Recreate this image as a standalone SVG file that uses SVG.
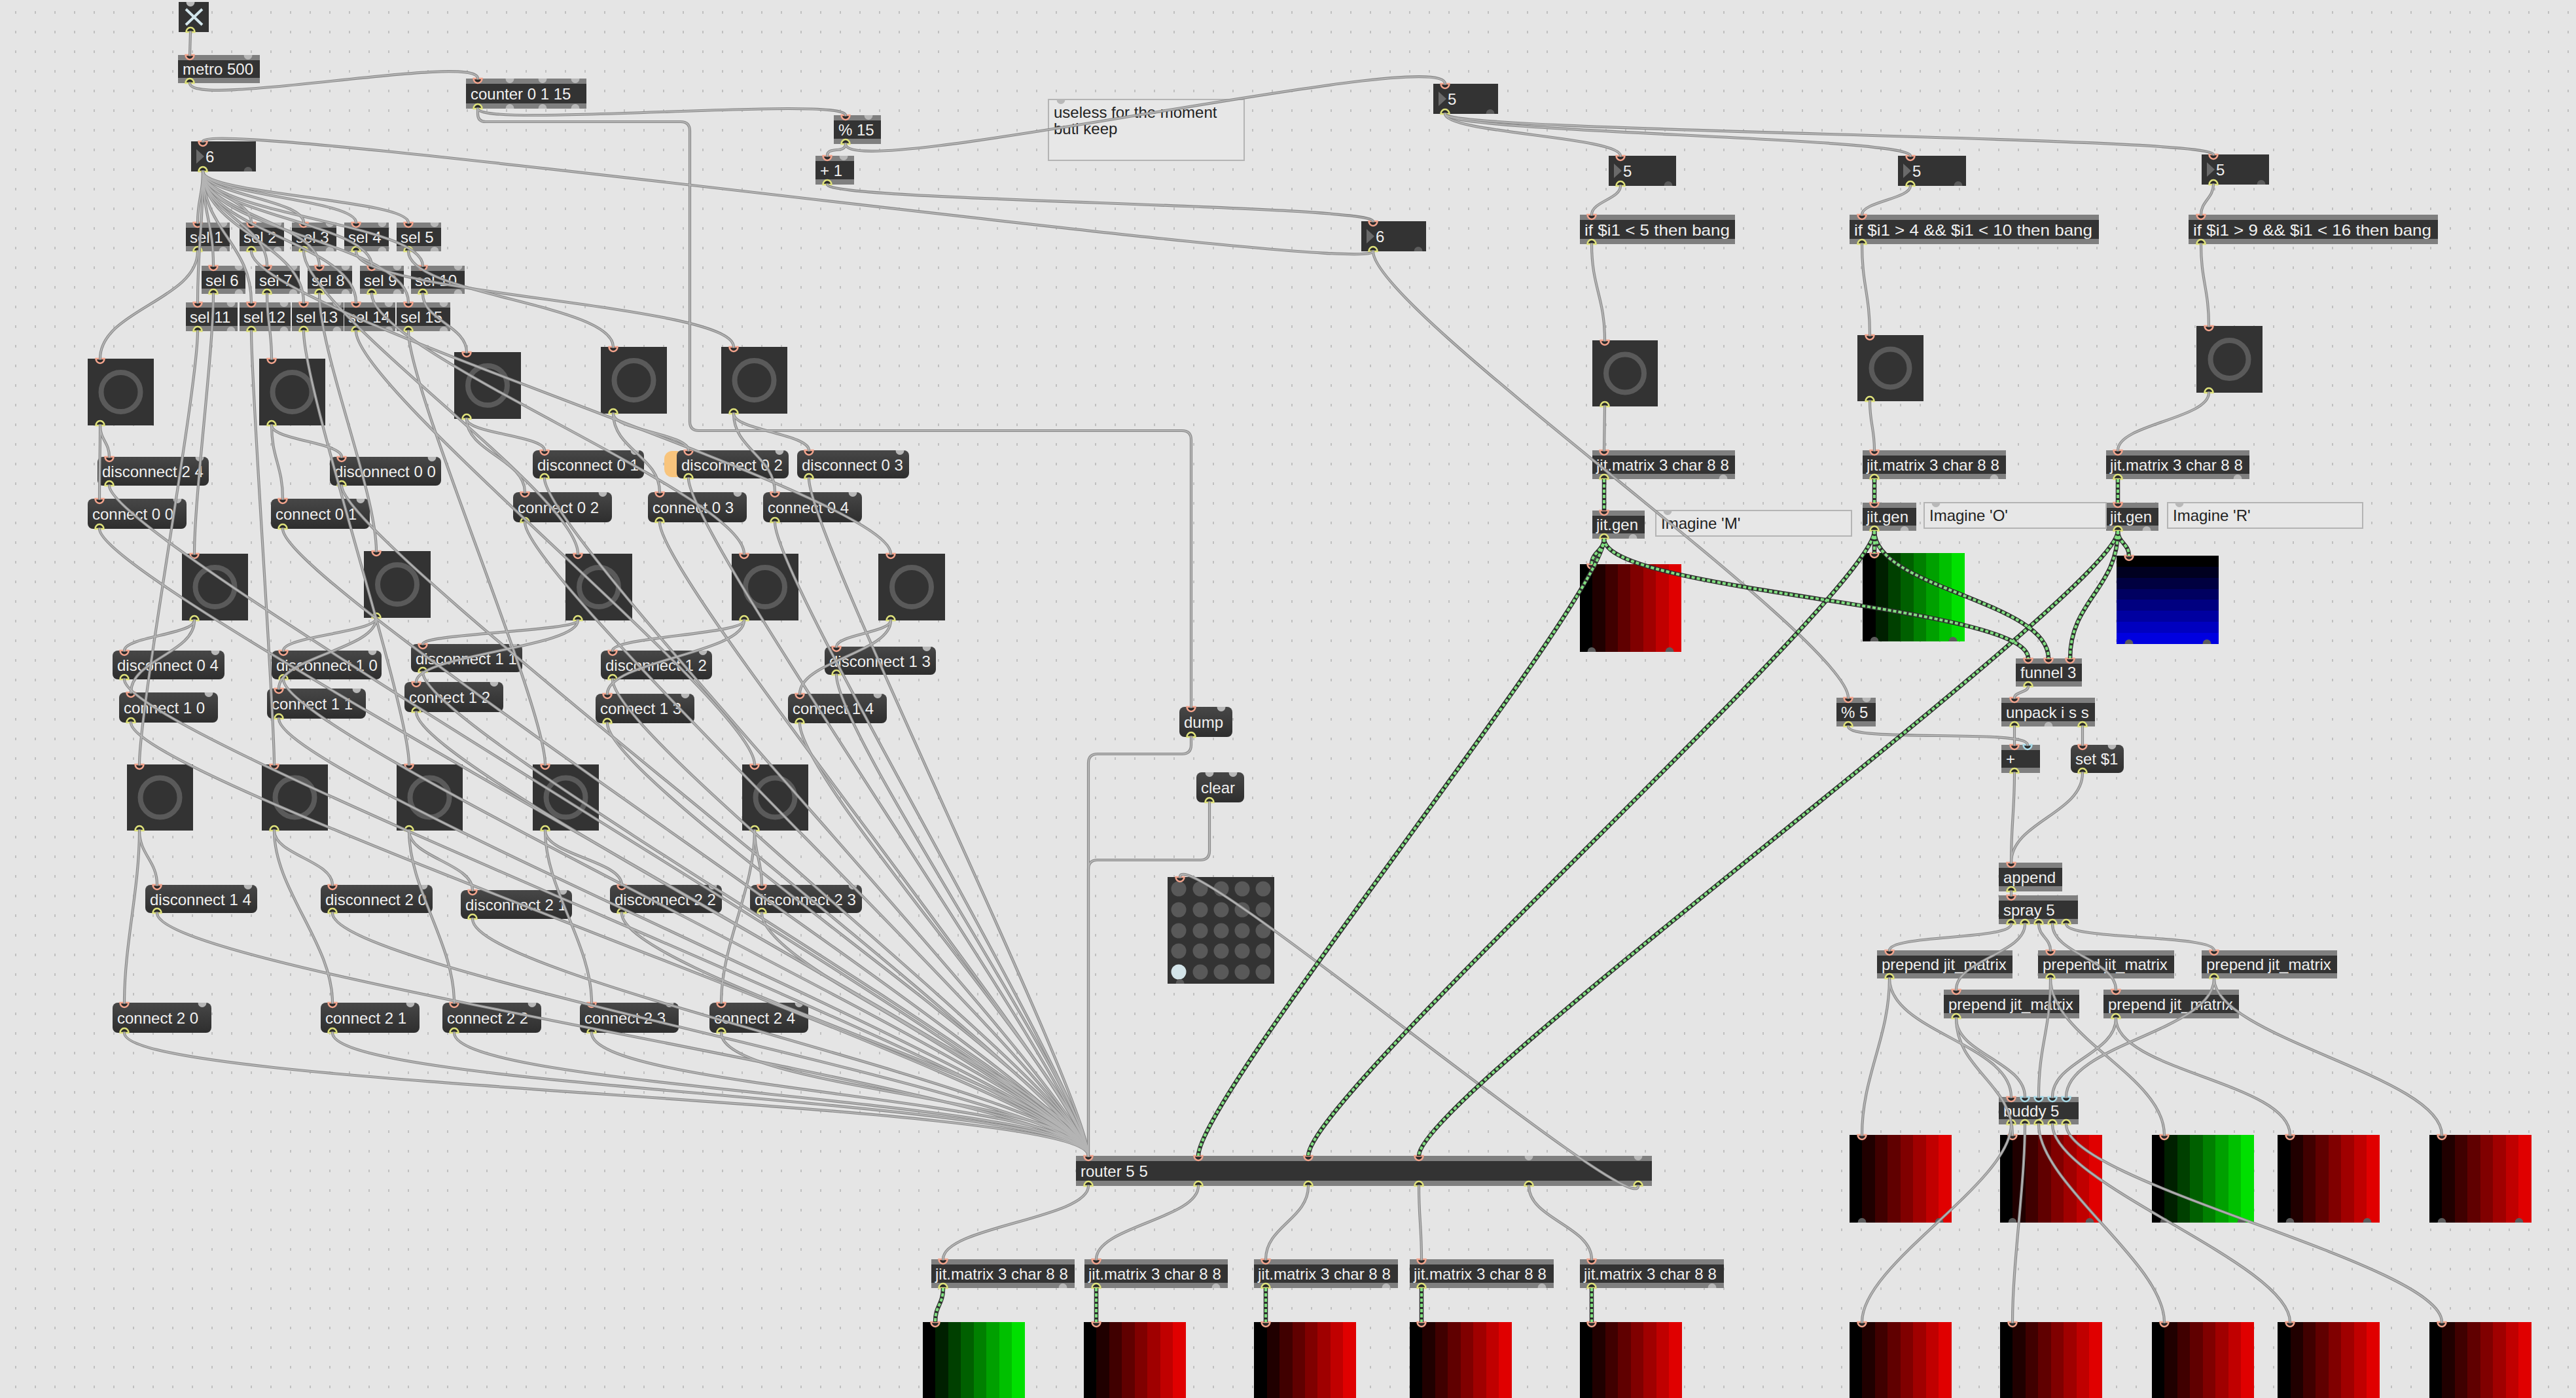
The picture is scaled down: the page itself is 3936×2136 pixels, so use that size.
<svg xmlns="http://www.w3.org/2000/svg" xmlns:xlink="http://www.w3.org/1999/xlink" width="3936" height="2136" viewBox="0 0 3936 2136">
<style>
.bd{fill:#333}
.st{fill:#7f7f7f}
.mg{fill:url(#mgrad)}
.t{font-family:"Liberation Sans",Arial,Helvetica,sans-serif;font-size:24px;fill:#f0f0f0}
.tc{font-family:"Liberation Sans",Arial,Helvetica,sans-serif;font-size:24px;fill:#222}
.cm{fill:#e7e7e7;stroke:#b4b4b4;stroke-width:2}
.ring{fill:none;stroke:#5a5a5a;stroke-width:8}
.tri{fill:#6a6a6a}
.cw{fill:none;stroke:#8a8a8a;stroke-width:4.2;stroke-linecap:round}
.ci{fill:none;stroke:#b4b4b4;stroke-width:2;stroke-linecap:round}
.jw{fill:none;stroke:#2f2f2f;stroke-width:6.5}
.jd{fill:none;stroke:#80df80;stroke-width:4;stroke-dasharray:5 3}
.mc{fill:#595959}
</style>
<defs>
<pattern id="grid" width="30" height="30" patternUnits="userSpaceOnUse" x="23" y="17"><rect width="2" height="4" fill="#c0c0c0"/></pattern>
<linearGradient id="mgrad" x1="0" y1="0" x2="0" y2="1"><stop offset="0" stop-color="#474747"/><stop offset="1" stop-color="#2e2e2e"/></linearGradient>
<linearGradient id="gr" x1="0" y1="0" x2="1" y2="0"><stop offset="0" stop-color="#000"/><stop offset=".125" stop-color="#000"/><stop offset=".125" stop-color="#200000"/><stop offset=".25" stop-color="#200000"/><stop offset=".25" stop-color="#400000"/><stop offset=".375" stop-color="#400000"/><stop offset=".375" stop-color="#600000"/><stop offset=".5" stop-color="#600000"/><stop offset=".5" stop-color="#800000"/><stop offset=".625" stop-color="#800000"/><stop offset=".625" stop-color="#a00000"/><stop offset=".75" stop-color="#a00000"/><stop offset=".75" stop-color="#c00000"/><stop offset=".875" stop-color="#c00000"/><stop offset=".875" stop-color="#e00000"/><stop offset="1" stop-color="#e00000"/></linearGradient>
<linearGradient id="gg" x1="0" y1="0" x2="1" y2="0"><stop offset="0" stop-color="#000"/><stop offset=".125" stop-color="#000"/><stop offset=".125" stop-color="#002000"/><stop offset=".25" stop-color="#002000"/><stop offset=".25" stop-color="#004000"/><stop offset=".375" stop-color="#004000"/><stop offset=".375" stop-color="#006000"/><stop offset=".5" stop-color="#006000"/><stop offset=".5" stop-color="#008000"/><stop offset=".625" stop-color="#008000"/><stop offset=".625" stop-color="#00a000"/><stop offset=".75" stop-color="#00a000"/><stop offset=".75" stop-color="#00c000"/><stop offset=".875" stop-color="#00c000"/><stop offset=".875" stop-color="#00e000"/><stop offset="1" stop-color="#00e000"/></linearGradient>
<linearGradient id="gb" x1="0" y1="0" x2="0" y2="1"><stop offset="0" stop-color="#000"/><stop offset=".125" stop-color="#000"/><stop offset=".125" stop-color="#000020"/><stop offset=".25" stop-color="#000020"/><stop offset=".25" stop-color="#000040"/><stop offset=".375" stop-color="#000040"/><stop offset=".375" stop-color="#000060"/><stop offset=".5" stop-color="#000060"/><stop offset=".5" stop-color="#000080"/><stop offset=".625" stop-color="#000080"/><stop offset=".625" stop-color="#0000a0"/><stop offset=".75" stop-color="#0000a0"/><stop offset=".75" stop-color="#0000c0"/><stop offset=".875" stop-color="#0000c0"/><stop offset=".875" stop-color="#0000e0"/><stop offset="1" stop-color="#0000e0"/></linearGradient>
<path id="pi" d="M-6.5 0A6.5 7 0 0 0 6.5 0Z" fill="#2a2a2a" stroke="#f3a48d" stroke-width="2.5"/>
<path id="pc" d="M-6.5 0A6.5 7 0 0 0 6.5 0Z" fill="#2a2a2a" stroke="#a9dcea" stroke-width="2.5"/>
<path id="po" d="M-6.5 0A6.5 7 0 0 1 6.5 0Z" fill="#2a2a2a" stroke="#dfe27b" stroke-width="2.5"/>
<path id="pu" d="M-6.5 0A6.5 7 0 0 0 6.5 0Z" fill="#b8b8b8"/>
<path id="pv" d="M-6.5 0A6.5 7 0 0 1 6.5 0Z" fill="#b8b8b8"/>
<path id="pd" d="M-6.5 0A6.5 7 0 0 1 6.5 0Z" fill="#5c5c5c"/>
</defs>
<rect width="3936" height="2136" fill="#e5e5e5"/>
<rect width="3936" height="2136" fill="url(#grid)"/>

<g id="nodes">
<g id="toggle"><rect class="bd" x="273" y="3" width="46" height="46"/><path d="M284 14L309 38M309 14L284 38" stroke="#d3e6ec" stroke-width="4"/><use href="#pu" x="291" y="3"/><use href="#po" x="291" y="49"/></g>
<g id="metro"><rect class="st" x="272" y="84" width="125" height="43"/><rect class="bd" x="272" y="92" width="125" height="27"/><text class="t" x="279" y="114">metro 500</text><use href="#pi" x="290" y="84"/><use href="#pu" x="379" y="84"/><use href="#po" x="290" y="127"/></g>
<g id="counter"><rect class="st" x="712" y="120" width="184" height="46"/><rect class="bd" x="712" y="128" width="184" height="30"/><text class="t" x="719" y="152">counter 0 1 15</text><use href="#pi" x="730" y="120"/><use href="#pu" x="779" y="120"/><use href="#pu" x="829" y="120"/><use href="#pu" x="879" y="120"/><use href="#po" x="730" y="166"/><use href="#pv" x="779" y="166"/><use href="#pv" x="829" y="166"/><use href="#pv" x="879" y="166"/></g>
<g id="mod15"><rect class="st" x="1274" y="176" width="72" height="44"/><rect class="bd" x="1274" y="184" width="72" height="28"/><text class="t" x="1281" y="207">% 15</text><use href="#pi" x="1292" y="176"/><use href="#pu" x="1327" y="176"/><use href="#po" x="1292" y="220"/></g>
<g id="plus1"><rect class="st" x="1246" y="238" width="59" height="44"/><rect class="bd" x="1246" y="246" width="59" height="28"/><text class="t" x="1253" y="269">+ 1</text><use href="#pi" x="1264" y="238"/><use href="#pu" x="1289" y="238"/><use href="#po" x="1264" y="282"/></g>
<g id="comment-useless"><rect class="cm" x="1602" y="152" width="299" height="93"/><text class="tc" x="1610" y="180">useless for the moment</text><text class="tc" x="1610" y="205">butl keep</text><use href="#pu" x="1621" y="152"/></g>

<g id="num5top"><rect class="bd" x="2190" y="128" width="99" height="46"/><path class="tri" d="M2198 140L2210 151L2198 162Z"/><text class="t" x="2212" y="160">5</text><use href="#pi" x="2208" y="128"/><use href="#po" x="2208" y="174"/><use href="#pd" x="2277" y="174"/></g>
<g id="num6L"><rect class="bd" x="292" y="216" width="99" height="46"/><path class="tri" d="M300 228L312 239L300 250Z"/><text class="t" x="314" y="248">6</text><use href="#pi" x="310" y="216"/><use href="#po" x="310" y="262"/><use href="#pd" x="379" y="262"/></g>
<g id="num6R"><rect class="bd" x="2080" y="338" width="99" height="46"/><path class="tri" d="M2088 350L2100 361L2088 372Z"/><text class="t" x="2102" y="370">6</text><use href="#pi" x="2098" y="338"/><use href="#po" x="2098" y="384"/><use href="#pd" x="2167" y="384"/></g>
<g id="num5c1"><rect class="bd" x="2458" y="238" width="103" height="46"/><path class="tri" d="M2466 250L2478 261L2466 272Z"/><text class="t" x="2480" y="270">5</text><use href="#pi" x="2476" y="238"/><use href="#po" x="2476" y="284"/><use href="#pd" x="2549" y="284"/></g>
<g id="num5c2"><rect class="bd" x="2900" y="238" width="104" height="46"/><path class="tri" d="M2908 250L2920 261L2908 272Z"/><text class="t" x="2922" y="270">5</text><use href="#pi" x="2919" y="238"/><use href="#po" x="2919" y="284"/><use href="#pd" x="2992" y="284"/></g>
<g id="num5c3"><rect class="bd" x="3364" y="236" width="103" height="46"/><path class="tri" d="M3372 248L3384 259L3372 270Z"/><text class="t" x="3386" y="268">5</text><use href="#pi" x="3382" y="236"/><use href="#po" x="3382" y="282"/><use href="#pd" x="3455" y="282"/></g>

<g id="if1"><rect class="st" x="2414" y="328" width="237" height="45"/><rect class="bd" x="2414" y="336" width="237" height="29"/><text class="t" x="2421" y="360" textLength="222" lengthAdjust="spacingAndGlyphs">if $i1 &lt; 5 then bang</text><use href="#pi" x="2432" y="328"/><use href="#po" x="2432" y="373"/></g>
<g id="if2"><rect class="st" x="2826" y="328" width="381" height="45"/><rect class="bd" x="2826" y="336" width="381" height="29"/><text class="t" x="2833" y="360" textLength="364" lengthAdjust="spacingAndGlyphs">if $i1 &gt; 4 &amp;&amp; $i1 &lt; 10 then bang</text><use href="#pi" x="2845" y="328"/><use href="#po" x="2845" y="373"/></g>
<g id="if3"><rect class="st" x="3344" y="328" width="381" height="45"/><rect class="bd" x="3344" y="336" width="381" height="29"/><text class="t" x="3351" y="360" textLength="364" lengthAdjust="spacingAndGlyphs">if $i1 &gt; 9 &amp;&amp; $i1 &lt; 16 then bang</text><use href="#pi" x="3363" y="328"/><use href="#po" x="3363" y="373"/></g>

<g id="bangM"><rect class="bd" x="2433" y="520" width="100" height="101"/><circle class="ring" cx="2483" cy="570.5" r="29"/><use href="#pi" x="2452" y="520"/><use href="#po" x="2452" y="621"/></g>
<g id="bangO"><rect class="bd" x="2838" y="512" width="101" height="101"/><circle class="ring" cx="2888.5" cy="562.5" r="29"/><use href="#pi" x="2857" y="512"/><use href="#po" x="2857" y="613"/></g>
<g id="bangR"><rect class="bd" x="3356" y="498" width="101" height="102"/><circle class="ring" cx="3406.5" cy="549" r="29"/><use href="#pi" x="3375" y="498"/><use href="#po" x="3375" y="600"/></g>

<g id="jmM"><rect class="st" x="2433" y="688" width="218" height="44"/><rect class="bd" x="2433" y="696" width="218" height="28"/><text class="t" x="2439" y="719">jit.matrix 3 char 8 8</text><use href="#pi" x="2451" y="688"/><use href="#po" x="2451" y="732"/><use href="#pv" x="2633" y="732"/></g>
<g id="jmO"><rect class="st" x="2846" y="688" width="219" height="44"/><rect class="bd" x="2846" y="696" width="219" height="28"/><text class="t" x="2852" y="719">jit.matrix 3 char 8 8</text><use href="#pi" x="2864" y="688"/><use href="#po" x="2864" y="732"/><use href="#pv" x="3047" y="732"/></g>
<g id="jmR"><rect class="st" x="3218" y="688" width="219" height="44"/><rect class="bd" x="3218" y="696" width="219" height="28"/><text class="t" x="3224" y="719">jit.matrix 3 char 8 8</text><use href="#pi" x="3236" y="688"/><use href="#po" x="3236" y="732"/><use href="#pv" x="3419" y="732"/></g>
<g id="jgM"><rect class="st" x="2433" y="780" width="80" height="43"/><rect class="bd" x="2433" y="788" width="80" height="27"/><text class="t" x="2439" y="810">jit.gen</text><use href="#pi" x="2451" y="780"/><use href="#po" x="2451" y="823"/><use href="#pv" x="2495" y="823"/></g>
<g id="jgO"><rect class="st" x="2846" y="768" width="82" height="43"/><rect class="bd" x="2846" y="776" width="82" height="27"/><text class="t" x="2852" y="798">jit.gen</text><use href="#pi" x="2864" y="768"/><use href="#po" x="2864" y="811"/><use href="#pv" x="2910" y="811"/></g>
<g id="jgR"><rect class="st" x="3218" y="768" width="80" height="43"/><rect class="bd" x="3218" y="776" width="80" height="27"/><text class="t" x="3224" y="798">jit.gen</text><use href="#pi" x="3236" y="768"/><use href="#po" x="3236" y="811"/><use href="#pv" x="3280" y="811"/></g>
<g id="cmtM"><rect class="cm" x="2530" y="780" width="299" height="39"/><text class="tc" x="2538" y="808">Imagine 'M'</text><use href="#pu" x="2548" y="780"/></g>
<g id="cmtO"><rect class="cm" x="2940" y="768" width="278" height="39"/><text class="tc" x="2948" y="796">Imagine 'O'</text><use href="#pu" x="2958" y="768"/></g>
<g id="cmtR"><rect class="cm" x="3312" y="768" width="298" height="39"/><text class="tc" x="3320" y="796">Imagine 'R'</text><use href="#pu" x="3330" y="768"/></g>
<g id="pwM"><rect x="2414" y="862" width="155" height="134" fill="url(#gr)"/><use href="#pi" x="2432" y="862"/><use href="#pd" x="2432" y="996"/><use href="#pd" x="2551" y="996"/></g>
<g id="pwO"><rect x="2846" y="845" width="156" height="135" fill="url(#gg)"/><use href="#pi" x="2864" y="845"/><use href="#pd" x="2864" y="980"/><use href="#pd" x="2984" y="980"/></g>
<g id="pwR"><rect x="3234" y="849" width="156" height="135" fill="url(#gb)"/><use href="#pi" x="3253" y="849"/><use href="#pd" x="3253" y="984"/><use href="#pd" x="3372" y="984"/></g>

<g id="dump"><rect class="mg" x="1802" y="1080" width="81" height="46" rx="8"/><text class="t" x="1809" y="1112">dump</text><use href="#pi" x="1820" y="1080"/><use href="#pu" x="1866" y="1080"/><use href="#po" x="1820" y="1126"/></g>
<g id="clear"><rect class="mg" x="1828" y="1180" width="73" height="46" rx="8"/><text class="t" x="1835" y="1212">clear</text><use href="#pu" x="1848" y="1180"/><use href="#pu" x="1884" y="1180"/><use href="#po" x="1848" y="1226"/></g>
<g id="matrixctrl"><rect class="bd" x="1784" y="1340" width="163" height="163"/>
<g class="mc"><circle cx="1801" cy="1358" r="11.5"/><circle cx="1834" cy="1358" r="11.5"/><circle cx="1866" cy="1358" r="11.5"/><circle cx="1898" cy="1358" r="11.5"/><circle cx="1930" cy="1358" r="11.5"/><circle cx="1801" cy="1390" r="11.5"/><circle cx="1834" cy="1390" r="11.5"/><circle cx="1866" cy="1390" r="11.5"/><circle cx="1898" cy="1390" r="11.5"/><circle cx="1930" cy="1390" r="11.5"/><circle cx="1801" cy="1422" r="11.5"/><circle cx="1834" cy="1422" r="11.5"/><circle cx="1866" cy="1422" r="11.5"/><circle cx="1898" cy="1422" r="11.5"/><circle cx="1930" cy="1422" r="11.5"/><circle cx="1801" cy="1453" r="11.5"/><circle cx="1834" cy="1453" r="11.5"/><circle cx="1866" cy="1453" r="11.5"/><circle cx="1898" cy="1453" r="11.5"/><circle cx="1930" cy="1453" r="11.5"/><circle cx="1834" cy="1485" r="11.5"/><circle cx="1866" cy="1485" r="11.5"/><circle cx="1898" cy="1485" r="11.5"/><circle cx="1930" cy="1485" r="11.5"/></g>
<circle cx="1801" cy="1485" r="11.5" fill="#d3e4e9"/><use href="#pi" x="1803" y="1340"/><use href="#pd" x="1803" y="1503"/></g>
<g id="router"><rect class="st" x="1644" y="1766" width="880" height="46"/><rect class="bd" x="1644" y="1774" width="880" height="30"/><text class="t" x="1651" y="1798">router 5 5</text><use href="#pi" x="1663" y="1766"/><use href="#pi" x="1831" y="1766"/><use href="#pi" x="1999" y="1766"/><use href="#pi" x="2168" y="1766"/><use href="#pu" x="2336" y="1766"/><use href="#pu" x="2503" y="1766"/><use href="#po" x="1663" y="1812"/><use href="#po" x="1831" y="1812"/><use href="#po" x="1999" y="1812"/><use href="#po" x="2168" y="1812"/><use href="#po" x="2336" y="1812"/><use href="#po" x="2503" y="1812"/></g>
<g id="jmB1"><rect class="st" x="1423" y="1924" width="219" height="44"/><rect class="bd" x="1423" y="1932" width="219" height="28"/><text class="t" x="1429" y="1955">jit.matrix 3 char 8 8</text><use href="#pi" x="1441" y="1924"/><use href="#po" x="1441" y="1968"/><use href="#pv" x="1624" y="1968"/></g>
<g id="jmB2"><rect class="st" x="1657" y="1924" width="219" height="44"/><rect class="bd" x="1657" y="1932" width="219" height="28"/><text class="t" x="1663" y="1955">jit.matrix 3 char 8 8</text><use href="#pi" x="1675" y="1924"/><use href="#po" x="1675" y="1968"/><use href="#pv" x="1858" y="1968"/></g>
<g id="jmB3"><rect class="st" x="1916" y="1924" width="220" height="44"/><rect class="bd" x="1916" y="1932" width="220" height="28"/><text class="t" x="1922" y="1955">jit.matrix 3 char 8 8</text><use href="#pi" x="1934" y="1924"/><use href="#po" x="1934" y="1968"/><use href="#pv" x="2118" y="1968"/></g>
<g id="jmB4"><rect class="st" x="2154" y="1924" width="220" height="44"/><rect class="bd" x="2154" y="1932" width="220" height="28"/><text class="t" x="2160" y="1955">jit.matrix 3 char 8 8</text><use href="#pi" x="2172" y="1924"/><use href="#po" x="2172" y="1968"/><use href="#pv" x="2356" y="1968"/></g>
<g id="jmB5"><rect class="st" x="2414" y="1924" width="220" height="44"/><rect class="bd" x="2414" y="1932" width="220" height="28"/><text class="t" x="2420" y="1955">jit.matrix 3 char 8 8</text><use href="#pi" x="2432" y="1924"/><use href="#po" x="2432" y="1968"/><use href="#pv" x="2616" y="1968"/></g>
<g id="pwB1"><rect x="1410" y="2020" width="156" height="134" fill="url(#gg)"/><use href="#pi" x="1429" y="2020"/></g>
<g id="pwB2"><rect x="1656" y="2020" width="156" height="134" fill="url(#gr)"/><use href="#pi" x="1675" y="2020"/></g>
<g id="pwB3"><rect x="1916" y="2020" width="156" height="134" fill="url(#gr)"/><use href="#pi" x="1934" y="2020"/></g>
<g id="pwB4"><rect x="2154" y="2020" width="156" height="134" fill="url(#gr)"/><use href="#pi" x="2172" y="2020"/></g>
<g id="pwB5"><rect x="2414" y="2020" width="156" height="134" fill="url(#gr)"/><use href="#pi" x="2432" y="2020"/></g>

<g id="funnel"><rect class="st" x="3080" y="1006" width="101" height="43"/><rect class="bd" x="3080" y="1014" width="101" height="27"/><text class="t" x="3087" y="1036">funnel 3</text><use href="#pi" x="3099" y="1006"/><use href="#pi" x="3130" y="1006"/><use href="#pi" x="3163" y="1006"/><use href="#po" x="3099" y="1049"/></g>
<g id="mod5"><rect class="st" x="2806" y="1066" width="60" height="44"/><rect class="bd" x="2806" y="1074" width="60" height="28"/><text class="t" x="2813" y="1097">% 5</text><use href="#pi" x="2824" y="1066"/><use href="#pu" x="2852" y="1066"/><use href="#po" x="2824" y="1110"/></g>
<g id="unpack"><rect class="st" x="3058" y="1066" width="143" height="44"/><rect class="bd" x="3058" y="1074" width="143" height="28"/><text class="t" x="3065" y="1097">unpack i s s</text><use href="#pi" x="3078" y="1066"/><use href="#po" x="3078" y="1110"/><use href="#pv" x="3130" y="1110"/><use href="#po" x="3182" y="1110"/></g>
<g id="plus"><rect class="st" x="3058" y="1138" width="59" height="43"/><rect class="bd" x="3058" y="1146" width="59" height="27"/><text class="t" x="3065" y="1168">+</text><use href="#pi" x="3078" y="1138"/><use href="#pc" x="3098" y="1138"/><use href="#po" x="3078" y="1181"/></g>
<g id="set1"><rect class="mg" x="3164" y="1138" width="81" height="43" rx="8"/><text class="t" x="3171" y="1168">set $1</text><use href="#pi" x="3182" y="1138"/><use href="#pu" x="3227" y="1138"/><use href="#po" x="3182" y="1181"/></g>
<g id="append"><rect class="st" x="3054" y="1318" width="97" height="44"/><rect class="bd" x="3054" y="1326" width="97" height="28"/><text class="t" x="3061" y="1349">append</text><use href="#pi" x="3073" y="1318"/><use href="#po" x="3073" y="1362"/></g>
<g id="spray"><rect class="st" x="3054" y="1368" width="121" height="44"/><rect class="bd" x="3054" y="1376" width="121" height="28"/><text class="t" x="3061" y="1399">spray 5</text><use href="#pi" x="3073" y="1368"/><use href="#po" x="3073" y="1412"/><use href="#po" x="3094" y="1412"/><use href="#po" x="3115" y="1412"/><use href="#po" x="3136" y="1412"/><use href="#po" x="3157" y="1412"/></g>
<g id="prepend1"><rect class="st" x="2868" y="1452" width="207" height="43"/><rect class="bd" x="2868" y="1460" width="207" height="27"/><text class="t" x="2875" y="1482">prepend jit_matrix</text><use href="#pi" x="2887" y="1452"/><use href="#po" x="2887" y="1495"/></g>
<g id="prepend2"><rect class="st" x="3114" y="1452" width="208" height="43"/><rect class="bd" x="3114" y="1460" width="208" height="27"/><text class="t" x="3121" y="1482">prepend jit_matrix</text><use href="#pi" x="3133" y="1452"/><use href="#po" x="3133" y="1495"/></g>
<g id="prepend3"><rect class="st" x="3364" y="1452" width="207" height="43"/><rect class="bd" x="3364" y="1460" width="207" height="27"/><text class="t" x="3371" y="1482">prepend jit_matrix</text><use href="#pi" x="3383" y="1452"/><use href="#po" x="3383" y="1495"/></g>
<g id="prepend4"><rect class="st" x="2970" y="1512" width="207" height="44"/><rect class="bd" x="2970" y="1520" width="207" height="28"/><text class="t" x="2977" y="1543">prepend jit_matrix</text><use href="#pi" x="2989" y="1512"/><use href="#po" x="2989" y="1556"/></g>
<g id="prepend5"><rect class="st" x="3214" y="1512" width="207" height="44"/><rect class="bd" x="3214" y="1520" width="207" height="28"/><text class="t" x="3221" y="1543">prepend jit_matrix</text><use href="#pi" x="3233" y="1512"/><use href="#po" x="3233" y="1556"/></g>
<g id="buddy"><rect class="st" x="3054" y="1676" width="122" height="42"/><rect class="bd" x="3054" y="1684" width="122" height="26"/><text class="t" x="3061" y="1706">buddy 5</text><use href="#pi" x="3073" y="1676"/><use href="#pc" x="3094" y="1676"/><use href="#pc" x="3115" y="1676"/><use href="#pc" x="3136" y="1676"/><use href="#pc" x="3157" y="1676"/><use href="#po" x="3073" y="1718"/><use href="#po" x="3094" y="1718"/><use href="#po" x="3115" y="1718"/><use href="#po" x="3136" y="1718"/><use href="#po" x="3157" y="1718"/></g>
<g id="pwM1"><rect x="2826" y="1734" width="156" height="134" fill="url(#gr)"/><use href="#pi" x="2845" y="1734"/><use href="#pd" x="2845" y="1868"/><use href="#pd" x="2963" y="1868"/></g>
<g id="pwM2"><rect x="3056" y="1734" width="156" height="134" fill="url(#gr)"/><use href="#pi" x="3075" y="1734"/><use href="#pd" x="3075" y="1868"/><use href="#pd" x="3193" y="1868"/></g>
<g id="pwM3"><rect x="3288" y="1734" width="156" height="134" fill="url(#gg)"/><use href="#pi" x="3307" y="1734"/><use href="#pd" x="3307" y="1868"/><use href="#pd" x="3425" y="1868"/></g>
<g id="pwM4"><rect x="3480" y="1734" width="156" height="134" fill="url(#gr)"/><use href="#pi" x="3499" y="1734"/><use href="#pd" x="3499" y="1868"/><use href="#pd" x="3617" y="1868"/></g>
<g id="pwM5"><rect x="3712" y="1734" width="156" height="134" fill="url(#gr)"/><use href="#pi" x="3731" y="1734"/><use href="#pd" x="3731" y="1868"/><use href="#pd" x="3849" y="1868"/></g>
<g id="pwL1"><rect x="2826" y="2020" width="156" height="134" fill="url(#gr)"/><use href="#pi" x="2845" y="2020"/></g>
<g id="pwL2"><rect x="3056" y="2020" width="156" height="134" fill="url(#gr)"/><use href="#pi" x="3075" y="2020"/></g>
<g id="pwL3"><rect x="3288" y="2020" width="156" height="134" fill="url(#gr)"/><use href="#pi" x="3307" y="2020"/></g>
<g id="pwL4"><rect x="3480" y="2020" width="156" height="134" fill="url(#gr)"/><use href="#pi" x="3499" y="2020"/></g>
<g id="pwL5"><rect x="3712" y="2020" width="156" height="134" fill="url(#gr)"/><use href="#pi" x="3731" y="2020"/></g>

<g id="sel1"><rect class="st" x="284" y="340" width="67" height="44"/><rect class="bd" x="284" y="348" width="67" height="28"/><text class="t" x="290" y="371">sel 1</text><use href="#pi" x="302" y="340"/><use href="#pu" x="341" y="340"/><use href="#po" x="302" y="384"/><use href="#pv" x="341" y="384"/></g>
<g id="sel2"><rect class="st" x="366" y="340" width="68" height="44"/><rect class="bd" x="366" y="348" width="68" height="28"/><text class="t" x="372" y="371">sel 2</text><use href="#pi" x="384" y="340"/><use href="#pu" x="424" y="340"/><use href="#po" x="384" y="384"/><use href="#pv" x="424" y="384"/></g>
<g id="sel3"><rect class="st" x="446" y="340" width="68" height="44"/><rect class="bd" x="446" y="348" width="68" height="28"/><text class="t" x="452" y="371">sel 3</text><use href="#pi" x="464" y="340"/><use href="#pu" x="504" y="340"/><use href="#po" x="464" y="384"/><use href="#pv" x="504" y="384"/></g>
<g id="sel4"><rect class="st" x="526" y="340" width="68" height="44"/><rect class="bd" x="526" y="348" width="68" height="28"/><text class="t" x="532" y="371">sel 4</text><use href="#pi" x="544" y="340"/><use href="#pu" x="584" y="340"/><use href="#po" x="544" y="384"/><use href="#pv" x="584" y="384"/></g>
<g id="sel5"><rect class="st" x="606" y="340" width="68" height="44"/><rect class="bd" x="606" y="348" width="68" height="28"/><text class="t" x="612" y="371">sel 5</text><use href="#pi" x="624" y="340"/><use href="#pu" x="664" y="340"/><use href="#po" x="624" y="384"/><use href="#pv" x="664" y="384"/></g>
<g id="sel6"><rect class="st" x="308" y="406" width="67" height="43"/><rect class="bd" x="308" y="414" width="67" height="27"/><text class="t" x="314" y="437">sel 6</text><use href="#pi" x="326" y="406"/><use href="#pu" x="365" y="406"/><use href="#po" x="326" y="449"/><use href="#pv" x="365" y="449"/></g>
<g id="sel7"><rect class="st" x="390" y="406" width="68" height="43"/><rect class="bd" x="390" y="414" width="68" height="27"/><text class="t" x="396" y="437">sel 7</text><use href="#pi" x="408" y="406"/><use href="#pu" x="448" y="406"/><use href="#po" x="408" y="449"/><use href="#pv" x="448" y="449"/></g>
<g id="sel8"><rect class="st" x="470" y="406" width="68" height="43"/><rect class="bd" x="470" y="414" width="68" height="27"/><text class="t" x="476" y="437">sel 8</text><use href="#pi" x="488" y="406"/><use href="#pu" x="528" y="406"/><use href="#po" x="488" y="449"/><use href="#pv" x="528" y="449"/></g>
<g id="sel9"><rect class="st" x="550" y="406" width="67" height="43"/><rect class="bd" x="550" y="414" width="67" height="27"/><text class="t" x="556" y="437">sel 9</text><use href="#pi" x="568" y="406"/><use href="#pu" x="607" y="406"/><use href="#po" x="568" y="449"/><use href="#pv" x="607" y="449"/></g>
<g id="sel10"><rect class="st" x="628" y="406" width="82" height="43"/><rect class="bd" x="628" y="414" width="82" height="27"/><text class="t" x="634" y="437">sel 10</text><use href="#pi" x="646" y="406"/><use href="#pu" x="700" y="406"/><use href="#po" x="646" y="449"/><use href="#pv" x="700" y="449"/></g>
<g id="sel11"><rect class="st" x="284" y="462" width="79" height="44"/><rect class="bd" x="284" y="470" width="79" height="28"/><text class="t" x="290" y="493">sel 11</text><use href="#pi" x="302" y="462"/><use href="#pu" x="353" y="462"/><use href="#po" x="302" y="506"/><use href="#pv" x="353" y="506"/></g>
<g id="sel12"><rect class="st" x="366" y="462" width="78" height="44"/><rect class="bd" x="366" y="470" width="78" height="28"/><text class="t" x="372" y="493">sel 12</text><use href="#pi" x="384" y="462"/><use href="#pu" x="434" y="462"/><use href="#po" x="384" y="506"/><use href="#pv" x="434" y="506"/></g>
<g id="sel13"><rect class="st" x="446" y="462" width="79" height="44"/><rect class="bd" x="446" y="470" width="79" height="28"/><text class="t" x="452" y="493">sel 13</text><use href="#pi" x="464" y="462"/><use href="#pu" x="515" y="462"/><use href="#po" x="464" y="506"/><use href="#pv" x="515" y="506"/></g>
<g id="sel14"><rect class="st" x="526" y="462" width="78" height="44"/><rect class="bd" x="526" y="470" width="78" height="28"/><text class="t" x="532" y="493">sel 14</text><use href="#pi" x="544" y="462"/><use href="#pu" x="594" y="462"/><use href="#po" x="544" y="506"/><use href="#pv" x="594" y="506"/></g>
<g id="sel15"><rect class="st" x="606" y="462" width="82" height="44"/><rect class="bd" x="606" y="470" width="82" height="28"/><text class="t" x="612" y="493">sel 15</text><use href="#pi" x="624" y="462"/><use href="#pu" x="678" y="462"/><use href="#po" x="624" y="506"/><use href="#pv" x="678" y="506"/></g>

<g id="bangA"><rect class="bd" x="134" y="548" width="101" height="102"/><circle class="ring" cx="184.5" cy="599" r="30"/><use href="#pi" x="153" y="548"/><use href="#po" x="153" y="650"/></g>
<g id="bangB"><rect class="bd" x="396" y="548" width="101" height="102"/><circle class="ring" cx="446.5" cy="599" r="30"/><use href="#pi" x="415" y="548"/><use href="#po" x="415" y="650"/></g>
<g id="bangC"><rect class="bd" x="694" y="538" width="102" height="102"/><circle class="ring" cx="745" cy="589" r="30"/><use href="#pi" x="713" y="538"/><use href="#po" x="713" y="640"/></g>
<g id="bangD"><rect class="bd" x="918" y="530" width="101" height="102"/><circle class="ring" cx="968.5" cy="581" r="30"/><use href="#pi" x="937" y="530"/><use href="#po" x="937" y="632"/></g>
<g id="bangE"><rect class="bd" x="1102" y="530" width="101" height="102"/><circle class="ring" cx="1152.5" cy="581" r="30"/><use href="#pi" x="1121" y="530"/><use href="#po" x="1121" y="632"/></g>
<g id="bangF"><rect class="bd" x="278" y="846" width="101" height="102"/><circle class="ring" cx="328.5" cy="897" r="30"/><use href="#pi" x="297" y="846"/><use href="#po" x="297" y="948"/></g>
<g id="bangG"><rect class="bd" x="556" y="842" width="102" height="102"/><circle class="ring" cx="607" cy="893" r="30"/><use href="#pi" x="575" y="842"/><use href="#po" x="575" y="944"/></g>
<g id="bangH"><rect class="bd" x="864" y="846" width="102" height="102"/><circle class="ring" cx="915" cy="897" r="30"/><use href="#pi" x="883" y="846"/><use href="#po" x="883" y="948"/></g>
<g id="bangI"><rect class="bd" x="1118" y="846" width="102" height="102"/><circle class="ring" cx="1169" cy="897" r="30"/><use href="#pi" x="1137" y="846"/><use href="#po" x="1137" y="948"/></g>
<g id="bangJ"><rect class="bd" x="1342" y="846" width="102" height="102"/><circle class="ring" cx="1393" cy="897" r="30"/><use href="#pi" x="1361" y="846"/><use href="#po" x="1361" y="948"/></g>
<g id="bangK"><rect class="bd" x="194" y="1168" width="101" height="101"/><circle class="ring" cx="244.5" cy="1218.5" r="30"/><use href="#pi" x="213" y="1168"/><use href="#po" x="213" y="1269"/></g>
<g id="bangL"><rect class="bd" x="400" y="1168" width="101" height="101"/><circle class="ring" cx="450.5" cy="1218.5" r="30"/><use href="#pi" x="419" y="1168"/><use href="#po" x="419" y="1269"/></g>
<g id="bangM3"><rect class="bd" x="606" y="1168" width="101" height="101"/><circle class="ring" cx="656.5" cy="1218.5" r="30"/><use href="#pi" x="625" y="1168"/><use href="#po" x="625" y="1269"/></g>
<g id="bangN"><rect class="bd" x="814" y="1168" width="101" height="101"/><circle class="ring" cx="864.5" cy="1218.5" r="30"/><use href="#pi" x="833" y="1168"/><use href="#po" x="833" y="1269"/></g>
<g id="bangO3"><rect class="bd" x="1134" y="1168" width="101" height="101"/><circle class="ring" cx="1184.5" cy="1218.5" r="30"/><use href="#pi" x="1153" y="1168"/><use href="#po" x="1153" y="1269"/></g>

<rect id="orange-marker" x="1015" y="689" width="30" height="40" rx="12" fill="#f8c47c"/>
<g id="msg-disc24"><rect class="mg" x="149" y="698" width="170" height="44" rx="8"/><text class="t" x="156" y="729">disconnect 2 4</text><use href="#pi" x="167" y="698"/><use href="#pu" x="305" y="698"/><use href="#po" x="167" y="742"/></g>
<g id="msg-con00"><rect class="mg" x="134" y="762" width="151" height="46" rx="8"/><text class="t" x="141" y="794">connect 0 0</text><use href="#pi" x="152" y="762"/><use href="#pu" x="271" y="762"/><use href="#po" x="152" y="808"/></g>
<g id="msg-disc00"><rect class="mg" x="504" y="698" width="170" height="44" rx="8"/><text class="t" x="511" y="729">disconnect 0 0</text><use href="#pi" x="522" y="698"/><use href="#pu" x="660" y="698"/><use href="#po" x="522" y="742"/></g>
<g id="msg-con01"><rect class="mg" x="414" y="762" width="151" height="46" rx="8"/><text class="t" x="421" y="794">connect 0 1</text><use href="#pi" x="432" y="762"/><use href="#pu" x="551" y="762"/><use href="#po" x="432" y="808"/></g>
<g id="msg-disc01"><rect class="mg" x="814" y="688" width="170" height="43" rx="8"/><text class="t" x="821" y="719">disconnect 0 1</text><use href="#pi" x="832" y="688"/><use href="#pu" x="970" y="688"/><use href="#po" x="832" y="731"/></g>
<g id="msg-disc02"><rect class="mg" x="1034" y="688" width="171" height="43" rx="8"/><text class="t" x="1041" y="719">disconnect 0 2</text><use href="#pi" x="1052" y="688"/><use href="#pu" x="1191" y="688"/><use href="#po" x="1052" y="731"/></g>
<g id="msg-disc03"><rect class="mg" x="1218" y="688" width="171" height="43" rx="8"/><text class="t" x="1225" y="719">disconnect 0 3</text><use href="#pi" x="1236" y="688"/><use href="#pu" x="1375" y="688"/><use href="#po" x="1236" y="731"/></g>
<g id="msg-con02"><rect class="mg" x="784" y="752" width="151" height="46" rx="8"/><text class="t" x="791" y="784">connect 0 2</text><use href="#pi" x="802" y="752"/><use href="#pu" x="921" y="752"/><use href="#po" x="802" y="798"/></g>
<g id="msg-con03"><rect class="mg" x="990" y="752" width="151" height="46" rx="8"/><text class="t" x="997" y="784">connect 0 3</text><use href="#pi" x="1008" y="752"/><use href="#pu" x="1127" y="752"/><use href="#po" x="1008" y="798"/></g>
<g id="msg-con04"><rect class="mg" x="1166" y="752" width="151" height="46" rx="8"/><text class="t" x="1173" y="784">connect 0 4</text><use href="#pi" x="1184" y="752"/><use href="#pu" x="1303" y="752"/><use href="#po" x="1184" y="798"/></g>
<g id="msg-disc04"><rect class="mg" x="172" y="994" width="171" height="44" rx="8"/><text class="t" x="179" y="1025">disconnect 0 4</text><use href="#pi" x="190" y="994"/><use href="#pu" x="329" y="994"/><use href="#po" x="190" y="1038"/></g>
<g id="msg-disc10"><rect class="mg" x="415" y="994" width="168" height="44" rx="8"/><text class="t" x="422" y="1025">disconnect 1 0</text><use href="#pi" x="433" y="994"/><use href="#pu" x="569" y="994"/><use href="#po" x="433" y="1038"/></g>
<g id="msg-disc11"><rect class="mg" x="628" y="984" width="170" height="43" rx="8"/><text class="t" x="635" y="1015">disconnect 1 1</text><use href="#pi" x="646" y="984"/><use href="#pu" x="784" y="984"/><use href="#po" x="646" y="1027"/></g>
<g id="msg-disc12"><rect class="mg" x="918" y="994" width="170" height="44" rx="8"/><text class="t" x="925" y="1025">disconnect 1 2</text><use href="#pi" x="936" y="994"/><use href="#pu" x="1074" y="994"/><use href="#po" x="936" y="1038"/></g>
<g id="msg-disc13"><rect class="mg" x="1260" y="988" width="170" height="43" rx="8"/><text class="t" x="1267" y="1019">disconnect 1 3</text><use href="#pi" x="1278" y="988"/><use href="#pu" x="1416" y="988"/><use href="#po" x="1278" y="1031"/></g>
<g id="msg-con10"><rect class="mg" x="182" y="1058" width="151" height="46" rx="8"/><text class="t" x="189" y="1090">connect 1 0</text><use href="#pi" x="200" y="1058"/><use href="#pu" x="319" y="1058"/><use href="#po" x="200" y="1104"/></g>
<g id="msg-con11"><rect class="mg" x="408" y="1052" width="151" height="46" rx="8"/><text class="t" x="415" y="1084">connect 1 1</text><use href="#pi" x="426" y="1052"/><use href="#pu" x="545" y="1052"/><use href="#po" x="426" y="1098"/></g>
<g id="msg-con12"><rect class="mg" x="618" y="1042" width="151" height="46" rx="8"/><text class="t" x="625" y="1074">connect 1 2</text><use href="#pi" x="636" y="1042"/><use href="#pu" x="755" y="1042"/><use href="#po" x="636" y="1088"/></g>
<g id="msg-con13"><rect class="mg" x="910" y="1060" width="151" height="45" rx="8"/><text class="t" x="917" y="1091">connect 1 3</text><use href="#pi" x="928" y="1060"/><use href="#pu" x="1047" y="1060"/><use href="#po" x="928" y="1105"/></g>
<g id="msg-con14"><rect class="mg" x="1204" y="1060" width="151" height="45" rx="8"/><text class="t" x="1211" y="1091">connect 1 4</text><use href="#pi" x="1222" y="1060"/><use href="#pu" x="1341" y="1060"/><use href="#po" x="1222" y="1105"/></g>
<g id="msg-disc14"><rect class="mg" x="222" y="1352" width="171" height="43" rx="8"/><text class="t" x="229" y="1383">disconnect 1 4</text><use href="#pi" x="240" y="1352"/><use href="#pu" x="379" y="1352"/><use href="#po" x="240" y="1395"/></g>
<g id="msg-disc20"><rect class="mg" x="490" y="1352" width="171" height="43" rx="8"/><text class="t" x="497" y="1383">disconnect 2 0</text><use href="#pi" x="508" y="1352"/><use href="#pu" x="647" y="1352"/><use href="#po" x="508" y="1395"/></g>
<g id="msg-disc21"><rect class="mg" x="704" y="1360" width="170" height="44" rx="8"/><text class="t" x="711" y="1391">disconnect 2 1</text><use href="#pi" x="722" y="1360"/><use href="#pu" x="860" y="1360"/><use href="#po" x="722" y="1404"/></g>
<g id="msg-disc22"><rect class="mg" x="932" y="1352" width="171" height="43" rx="8"/><text class="t" x="939" y="1383">disconnect 2 2</text><use href="#pi" x="950" y="1352"/><use href="#pu" x="1089" y="1352"/><use href="#po" x="950" y="1395"/></g>
<g id="msg-disc23"><rect class="mg" x="1146" y="1352" width="171" height="43" rx="8"/><text class="t" x="1153" y="1383">disconnect 2 3</text><use href="#pi" x="1164" y="1352"/><use href="#pu" x="1303" y="1352"/><use href="#po" x="1164" y="1395"/></g>
<g id="msg-con20"><rect class="mg" x="172" y="1532" width="151" height="46" rx="8"/><text class="t" x="179" y="1564">connect 2 0</text><use href="#pi" x="190" y="1532"/><use href="#pu" x="309" y="1532"/><use href="#po" x="190" y="1578"/></g>
<g id="msg-con21"><rect class="mg" x="490" y="1532" width="151" height="46" rx="8"/><text class="t" x="497" y="1564">connect 2 1</text><use href="#pi" x="508" y="1532"/><use href="#pu" x="627" y="1532"/><use href="#po" x="508" y="1578"/></g>
<g id="msg-con22"><rect class="mg" x="676" y="1532" width="151" height="46" rx="8"/><text class="t" x="683" y="1564">connect 2 2</text><use href="#pi" x="694" y="1532"/><use href="#pu" x="813" y="1532"/><use href="#po" x="694" y="1578"/></g>
<g id="msg-con23"><rect class="mg" x="886" y="1532" width="151" height="46" rx="8"/><text class="t" x="893" y="1564">connect 2 3</text><use href="#pi" x="904" y="1532"/><use href="#pu" x="1023" y="1532"/><use href="#po" x="904" y="1578"/></g>
<g id="msg-con24"><rect class="mg" x="1084" y="1532" width="151" height="46" rx="8"/><text class="t" x="1091" y="1564">connect 2 4</text><use href="#pi" x="1102" y="1532"/><use href="#pu" x="1221" y="1532"/><use href="#po" x="1102" y="1578"/></g>
</g>

<g id="connectors">
<g class="cw"><g id="gcords">
<path d="M291 49L290 84"/>
<path d="M290 127C290 167 730 80 730 120"/>
<path d="M730 166C730 196 1292 146 1292 176"/>
<path d="M730 166L730 174Q730 186 742 186L1040 186Q1054 186 1054 200L1054 644Q1054 658 1068 658L1806 658Q1820 658 1820 672L1820 1080"/>
<path d="M1292 220C1292 235 1264 223 1264 238"/>
<path d="M1292 220C1292 280 2208 68 2208 128"/>
<path d="M1264 282C1264 307 2098 313 2098 338"/>
<path d="M2098 384C2098 424 310 176 310 216"/>
<path d="M2208 174C2208 203 2476 209 2476 238"/>
<path d="M2208 174C2208 203 2919 209 2919 238"/>
<path d="M2208 174C2208 202 3382 208 3382 236"/>
<path d="M2476 284C2476 304 2432 308 2432 328"/>
<path d="M2919 284C2919 304 2845 308 2845 328"/>
<path d="M3382 282C3382 302 3363 308 3363 328"/>
<path d="M2432 373C2432 439 2452 454 2452 520"/>
<path d="M2845 373C2845 436 2857 449 2857 512"/>
<path d="M3363 373C3363 429 3375 442 3375 498"/>
<path d="M2452 621L2451 688"/>
<path d="M2857 613C2857 647 2864 654 2864 688"/>
<path d="M3375 600C3375 640 3236 648 3236 688"/>
<path d="M1820 1126L1820 1138Q1820 1152 1806 1152L1677 1152Q1663 1152 1663 1166L1663 1766"/>
<path d="M1848 1226L1848 1300Q1848 1314 1834 1314L1677 1314Q1663 1314 1663 1328L1663 1766"/>
<path d="M2503 1812C2503 1872 1803 1280 1803 1340"/>
<path d="M1663 1812C1663 1862 1441 1874 1441 1924"/>
<path d="M1831 1812C1831 1862 1675 1874 1675 1924"/>
<path d="M1999 1812C1999 1862 1934 1874 1934 1924"/>
<path d="M2168 1812C2168 1862 2172 1874 2172 1924"/>
<path d="M2336 1812C2336 1862 2432 1874 2432 1924"/>
<path d="M2098 384C2098 474 2824 976 2824 1066"/>
<path d="M3099 1049C3099 1058 3078 1057 3078 1066"/>
<path d="M3078 1110L3078 1138"/>
<path d="M2824 1110C2824 1135 3098 1113 3098 1138"/>
<path d="M3182 1110L3182 1138"/>
<path d="M3078 1181C3078 1240 3073 1259 3073 1318"/>
<path d="M3182 1181C3182 1243 3073 1256 3073 1318"/>
<path d="M3073 1362L3073 1368"/>
<path d="M3073 1412C3073 1436 2887 1428 2887 1452"/>
<path d="M3094 1412C3094 1457 2989 1467 2989 1512"/>
<path d="M3115 1412C3115 1430 3133 1434 3133 1452"/>
<path d="M3136 1412C3136 1457 3233 1467 3233 1512"/>
<path d="M3157 1412C3157 1436 3383 1428 3383 1452"/>
<path d="M2887 1495C2887 1585 2845 1644 2845 1734"/>
<path d="M2887 1495C2887 1576 3073 1595 3073 1676"/>
<path d="M2989 1556C2989 1610 3094 1622 3094 1676"/>
<path d="M2989 1556C2989 1634 3075 1656 3075 1734"/>
<path d="M3133 1495C3133 1576 3115 1595 3115 1676"/>
<path d="M3133 1495C3133 1585 3307 1644 3307 1734"/>
<path d="M3233 1556C3233 1610 3136 1622 3136 1676"/>
<path d="M3233 1556C3233 1636 3499 1654 3499 1734"/>
<path d="M3383 1495C3383 1576 3157 1595 3157 1676"/>
<path d="M3383 1495C3383 1585 3731 1644 3731 1734"/>
<path d="M3073 1718C3073 1808 2845 1930 2845 2020"/>
<path d="M3094 1718C3094 1808 3075 1930 3075 2020"/>
<path d="M3115 1718C3115 1808 3307 1930 3307 2020"/>
<path d="M3136 1718C3136 1808 3499 1930 3499 2020"/>
<path d="M3157 1718C3157 1808 3731 1930 3731 2020"/>
<path d="M310 262C310 297 302 305 302 340"/>
<path d="M310 262C310 297 384 305 384 340"/>
<path d="M310 262C310 297 464 305 464 340"/>
<path d="M310 262C310 297 544 305 544 340"/>
<path d="M310 262C310 297 624 305 624 340"/>
<path d="M310 262C310 327 326 341 326 406"/>
<path d="M310 262C310 327 408 341 408 406"/>
<path d="M310 262C310 327 488 341 488 406"/>
<path d="M310 262C310 327 568 341 568 406"/>
<path d="M310 262C310 327 646 341 646 406"/>
<path d="M310 262C310 352 302 372 302 462"/>
<path d="M310 262C310 352 384 372 384 462"/>
<path d="M310 262C310 352 464 372 464 462"/>
<path d="M310 262C310 352 544 372 544 462"/>
<path d="M310 262C310 352 624 372 624 462"/>
<path d="M302 384C302 458 153 474 153 548"/>
<path d="M408 449C408 494 415 503 415 548"/>
<path d="M646 449C646 489 713 498 713 538"/>
<path d="M624 384C624 450 937 464 937 530"/>
<path d="M544 384C544 450 1121 464 1121 530"/>
<path d="M326 449C326 539 297 756 297 846"/>
<path d="M488 449C488 539 575 752 575 842"/>
<path d="M464 384C464 474 883 756 883 846"/>
<path d="M568 449C568 539 1137 756 1137 846"/>
<path d="M384 384C384 474 1361 756 1361 846"/>
<path d="M302 506C302 596 213 1078 213 1168"/>
<path d="M384 506C384 596 419 1078 419 1168"/>
<path d="M464 506C464 596 625 1078 625 1168"/>
<path d="M624 506C624 596 833 1078 833 1168"/>
<path d="M544 506C544 596 1153 1078 1153 1168"/>
<path d="M153 650C153 672 167 676 167 698"/>
<path d="M153 650C153 700 152 712 152 762"/>
<path d="M415 650C415 672 522 676 522 698"/>
<path d="M415 650C415 700 432 712 432 762"/>
<path d="M713 640C713 662 832 666 832 688"/>
<path d="M713 640C713 690 802 702 802 752"/>
<path d="M937 632C937 657 1052 663 1052 688"/>
<path d="M937 632C937 686 1008 698 1008 752"/>
<path d="M1121 632C1121 657 1236 663 1236 688"/>
<path d="M1121 632C1121 686 1184 698 1184 752"/>
<path d="M297 948C297 969 190 973 190 994"/>
<path d="M297 948C297 998 200 1008 200 1058"/>
<path d="M575 944C575 966 433 972 433 994"/>
<path d="M575 944C575 993 426 1003 426 1052"/>
<path d="M883 948C883 964 646 968 646 984"/>
<path d="M883 948C883 990 636 1000 636 1042"/>
<path d="M1137 948C1137 969 936 973 936 994"/>
<path d="M1137 948C1137 998 928 1010 928 1060"/>
<path d="M1361 948C1361 966 1278 970 1278 988"/>
<path d="M1361 948C1361 998 1222 1010 1222 1060"/>
<path d="M213 1269C213 1306 240 1315 240 1352"/>
<path d="M213 1269C213 1359 190 1442 190 1532"/>
<path d="M419 1269C419 1306 508 1315 508 1352"/>
<path d="M419 1269C419 1359 508 1442 508 1532"/>
<path d="M625 1269C625 1310 722 1319 722 1360"/>
<path d="M625 1269C625 1359 694 1442 694 1532"/>
<path d="M833 1269C833 1306 950 1315 950 1352"/>
<path d="M833 1269C833 1359 904 1442 904 1532"/>
<path d="M1153 1269C1153 1306 1164 1315 1164 1352"/>
<path d="M1153 1269C1153 1359 1102 1442 1102 1532"/>
<path d="M167 742C167 832 1663 1676 1663 1766"/>
<path d="M152 808C152 898 1663 1676 1663 1766"/>
<path d="M522 742C522 832 1663 1676 1663 1766"/>
<path d="M432 808C432 898 1663 1676 1663 1766"/>
<path d="M832 731C832 821 1663 1676 1663 1766"/>
<path d="M802 798C802 888 1663 1676 1663 1766"/>
<path d="M1052 731C1052 821 1663 1676 1663 1766"/>
<path d="M1008 798C1008 888 1663 1676 1663 1766"/>
<path d="M1236 731C1236 821 1663 1676 1663 1766"/>
<path d="M1184 798C1184 888 1663 1676 1663 1766"/>
<path d="M190 1038C190 1128 1663 1676 1663 1766"/>
<path d="M200 1104C200 1194 1663 1676 1663 1766"/>
<path d="M433 1038C433 1128 1663 1676 1663 1766"/>
<path d="M426 1098C426 1188 1663 1676 1663 1766"/>
<path d="M646 1027C646 1117 1663 1676 1663 1766"/>
<path d="M636 1088C636 1178 1663 1676 1663 1766"/>
<path d="M936 1038C936 1128 1663 1676 1663 1766"/>
<path d="M928 1105C928 1195 1663 1676 1663 1766"/>
<path d="M1278 1031C1278 1121 1663 1676 1663 1766"/>
<path d="M1222 1105C1222 1195 1663 1676 1663 1766"/>
<path d="M240 1395C240 1485 1663 1676 1663 1766"/>
<path d="M190 1578C190 1663 1663 1681 1663 1766"/>
<path d="M508 1395C508 1485 1663 1676 1663 1766"/>
<path d="M508 1578C508 1663 1663 1681 1663 1766"/>
<path d="M722 1404C722 1494 1663 1676 1663 1766"/>
<path d="M694 1578C694 1663 1663 1681 1663 1766"/>
<path d="M950 1395C950 1485 1663 1676 1663 1766"/>
<path d="M904 1578C904 1663 1663 1681 1663 1766"/>
<path d="M1164 1395C1164 1485 1663 1676 1663 1766"/>
<path d="M1102 1578C1102 1663 1663 1681 1663 1766"/>
</g></g>
<use href="#gcords" class="ci"/>
<g id="jitter-connectors">
<g class="jw"><g id="jcords">
<path d="M2451 732L2451 780"/>
<path d="M2864 732L2864 768"/>
<path d="M3236 732L3236 768"/>
<path d="M2451 823C2451 841 2432 844 2432 862"/>
<path d="M2864 811L2864 845"/>
<path d="M3236 811C3236 829 3253 831 3253 849"/>
<path d="M2451 823C2451 905 3099 924 3099 1006"/>
<path d="M2864 811C2864 899 3130 918 3130 1006"/>
<path d="M3236 811C3236 899 3163 918 3163 1006"/>
<path d="M2451 823C2451 913 1831 1676 1831 1766"/>
<path d="M2864 811C2864 901 1999 1676 1999 1766"/>
<path d="M3236 811C3236 901 2168 1676 2168 1766"/>
<path d="M1441 1968C1441 1994 1429 1994 1429 2020"/>
<path d="M1675 1968L1675 2020"/>
<path d="M1934 1968L1934 2020"/>
<path d="M2172 1968L2172 2020"/>
<path d="M2432 1968L2432 2020"/>
</g></g>
<use href="#jcords" class="jd"/>
</g>
</g>
</svg>
